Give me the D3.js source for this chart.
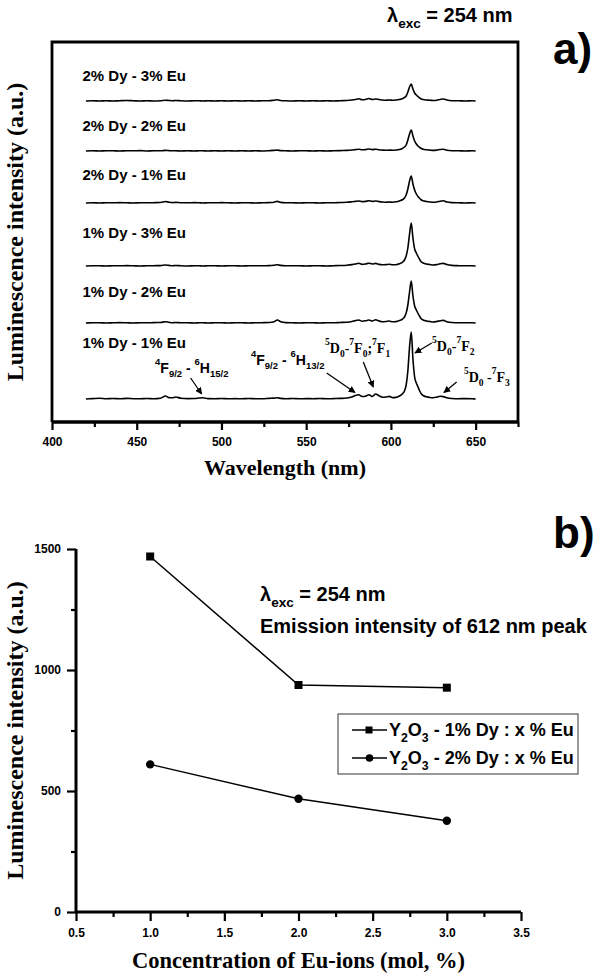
<!DOCTYPE html>
<html><head><meta charset="utf-8">
<script src="https://cdn.jsdelivr.net/npm/d3@7"></script>
<style>body{margin:0;background:#fff}svg{display:block}</style>
</head><body>
<svg id="c" width="600" height="977"></svg>
<script>
// ---------- Panel a data ----------
const wavelengths = [420,424,428,432,436,440,444,448,452,456,460,464,467,469,471,473,476,480,484,487,489,492,496,500,504,508,512,516,520,524,528,531,533,535,538,542,546,550,554,558,562,566,570,574,577,579,581,583,585,587,589,591,593,595,597,599,601,603,605,607,608,609,610,611,612,613,614,615,616,617,618,619,621,623,625,627,629,631,633,636,640,644,648,650];
const sampleLabels = ["2% Dy - 3% Eu","2% Dy - 2% Eu","2% Dy - 1% Eu","1% Dy - 3% Eu","1% Dy - 2% Eu","1% Dy - 1% Eu"];
const offsets = [321,271,219,156,99,23];
const labelLevels = [341,291,242,184,125,74];
const spec_2Dy3Eu = [0,0.3,0,0.2,0,0.3,0.5,0.2,0,0.3, 0,0.3,0.8,0.5,0.3,0.5,0.2,0,0.3,0.2, 0,0.2,0,0.3,0,0.2,0,0.2,0,0.2, 0.3,0.8,1.2,0.5,0.2,0,0.2,0,0.3,0, 0.2,0,0.3,0.5,1,1.5,2.2,1.2,1.5,2.5, 1.5,2,1.5,1,0.8,1,0.8,1,1.5,2.5, 3.5,5,9,14,17,12,8,6,4.5,3, 2,1.5,1,0.8,0.5,0.8,1.5,2,1,0.3, 0.2,0,0.2,0];
const spec_2Dy2Eu = [0,0.2,0,0.3,0.2,0,0.3,0.2,0.4,0, 0.3,0.2,0.6,0.4,0.2,0.3,0,0.2,0,0.3, 0.2,0,0.3,0,0.2,0,0.3,0,0.2,0, 0.3,0.6,0.9,0.4,0.2,0,0.3,0.2,0,0.3, 0,0.2,0.4,0.6,1,1.4,1.8,1.2,1.4,2, 1.4,1.8,1.2,0.9,0.7,0.9,0.8,1,1.5,2.8, 4,6,11,17,21,15,10,7,5,3.5, 2.5,1.8,1.2,0.9,0.6,0.9,1.5,1.8,0.8,0.3, 0.2,0,0.2,0];
const spec_2Dy1Eu = [0,0.2,0,0.3,0.2,0.4,0.2,0,0.3,0.2, 0.3,0.5,1.5,0.8,0.4,0.6,0.3,0.2,0.4,0.2, 0,0.3,0.2,0.4,0.2,0,0.3,0.2,0,0.2, 0.4,0.8,1.6,0.6,0.3,0.2,0,0.3,0.2,0, 0.3,0.2,0.5,0.7,1.2,1.6,2,1.4,1.6,2.2, 1.6,2,1.4,1,0.8,1,0.8,1.2,2,3.5, 5,8,14,22,27,19,13,9,6.5,4.5, 3,2.2,1.5,1,0.7,1,1.8,2.2,1,0.4, 0.2,0,0.3,0];
const spec_1Dy3Eu = [0,0.3,0.2,0,0.3,0.2,0.4,0.2,0,0.2, 0.3,0.4,1,0.6,0.3,0.5,0.2,0,0.3,0.2, 0,0.2,0.3,0,0.2,0.3,0,0.2,0.3,0.2, 0.4,0.8,1.2,0.6,0.3,0.2,0.3,0,0.2,0.3, 0,0.3,0.5,0.8,1.4,2,2.8,1.6,2,2.8, 2,2.6,1.6,1.2,1.4,1.8,1.2,1.3,2.2,4, 6,10,18,32,43,28,17,13,9.5,6.5, 4,3,2,1.5,1,1.4,2.2,2.6,1.4,0.6, 0.3,0.2,0.3,0];
const spec_1Dy2Eu = [0,0.2,0.3,0,0.2,0.4,0.2,0,0.3,0.2, 0.4,0.5,1.2,0.7,0.3,0.5,0.2,0.3,0,0.2, 0.3,0,0.2,0.3,0,0.2,0.3,0,0.2,0.3, 0.5,1.2,3,1.2,0.4,0.2,0,0.3,0.2,0, 0.3,0.2,0.5,0.8,1.5,2.4,3,1.8,2.2,3, 2,3.2,2,1.3,1.5,2,1.2,1.4,2.4,4.2, 6,10,18,31,42,27,17,13,9.5,6.5, 4,3,2,1.5,1,1.5,2.3,2.6,1.3,0.5, 0.2,0.3,0.2,0];
const spec_1Dy1Eu = [0,0.4,0.8,0.3,0.5,0.2,0.6,0.3,0.2,0.5, 0.3,0.8,3,1.4,1.2,2,0.8,0.4,0.5,1, 1.2,0.4,0.3,0.5,0.2,0.4,0.2,0.5,0.3,0.2, 0.6,0.9,1.2,0.6,0.3,0.5,0.2,0.4,0.3,0.5, 0.2,0.4,0.6,1,2,3.5,4.2,2.5,2.8,4.2, 2.6,5,3.2,1.8,2,2.6,1.4,1.6,3,5.5, 8,14,28,52,67,40,22,16,12,8, 5,3.5,2.2,1.5,1.2,1.8,2.8,2.4,1.2,0.5, 0.3,0.4,0.2,0];
const spectra = [spec_2Dy3Eu, spec_2Dy2Eu, spec_2Dy1Eu, spec_1Dy3Eu, spec_1Dy2Eu, spec_1Dy1Eu];
const wlTicks = [400,450,500,550,600,650];
const wlMinorTicks = [425,475,525,575,625,675];

// ---------- Panel b data ----------
const euConc = [1.0, 2.0, 3.0];
const dy1Series = [1469, 938, 927];
const dy2Series = [610, 468, 377];
const concTicks = [0.5,1.0,1.5,2.0,2.5,3.0,3.5];
const concMinor = [0.75,1.25,1.75,2.25,2.75,3.25];
const intTicks = [0,500,1000,1500];
const intMinor = [250,750,1250];

const SANS = "'Liberation Sans', Arial, sans-serif";
const SERIF = "'Liberation Serif', 'Times New Roman', serif";
const svg = d3.select("#c");

svg.append("defs").append("marker").attr("id","arr").attr("viewBox","0 0 10 10")
  .attr("refX",9).attr("refY",5).attr("markerWidth",7).attr("markerHeight",7)
  .attr("markerUnits","userSpaceOnUse").attr("orient","auto")
  .append("path").attr("d","M0,0 L10,5 L0,10 Z").attr("fill","#000");

function rich(g, x, y, parts, size, family, weight) {
  const t = g.append("text").attr("x", x).attr("y", y)
    .attr("font-family", family).attr("font-weight", weight || "bold").attr("font-size", size);
  parts.forEach(p => {
    const ts = t.append("tspan").text(p[0]);
    if (p[1] === "sup") ts.attr("y", y - size * 0.6).attr("font-size", size * 0.68);
    else if (p[1] === "sub") ts.attr("y", y + size * 0.32).attr("font-size", size * 0.68);
    else ts.attr("y", y);
  });
  return t;
}

// ================= Panel a =================
const xA = d3.scaleLinear().domain([400, 675]).range([52, 518]);
const yA = d3.scaleLinear().domain([0, 380]).range([422, 42]);
const gA = svg.append("g");

gA.append("path").attr("d", `M${xA(400)},${yA(0)} V${yA(380)} H${xA(675)} V${yA(0)}`)
  .attr("fill","none").attr("stroke","#000").attr("stroke-width",2.8);

spectra.forEach((s, k) => {
  gA.append("path").datum(s.map(v => yA(v + offsets[k])))
    .attr("d", d3.line().x((d,i) => xA(wavelengths[i])).y(d => d).curve(d3.curveMonotoneX))
    .attr("fill","none").attr("stroke","#000").attr("stroke-width",1.6).attr("stroke-linejoin","round");
  gA.append("text").attr("x", xA(418)).attr("y", yA(labelLevels[k]))
    .attr("font-family", SANS).attr("font-weight","bold").attr("font-size",15).text(sampleLabels[k]);
});

const axA = gA.append("g").attr("transform", `translate(0,${yA(0)})`)
  .call(d3.axisBottom(xA).tickValues(wlTicks).tickSize(8).tickPadding(7).tickFormat(d3.format("d")));
const axAm = gA.append("g").attr("transform", `translate(0,${yA(0)})`)
  .call(d3.axisBottom(xA).tickValues(wlMinorTicks).tickSize(5).tickFormat(""));
[axA, axAm].forEach(a => {
  a.select(".domain").attr("stroke-width",3).attr("d", `M${xA(400)},0H${xA(675)}`);
  a.selectAll(".tick line").attr("stroke-width",2.2);
});
axA.selectAll(".tick text").attr("font-family",SANS).attr("font-weight","bold").attr("font-size",12);

gA.append("text").attr("x", (xA(400)+xA(675))/2).attr("y", 475).attr("text-anchor","middle")
  .attr("font-family",SERIF).attr("font-weight","bold").attr("font-size",22).text("Wavelength (nm)");
gA.append("text").attr("transform", `translate(23,${(yA(0)+yA(380))/2}) rotate(-90)`).attr("text-anchor","middle")
  .attr("font-family",SERIF).attr("font-weight","bold").attr("font-size",24).text("Luminescence intensity (a.u.)");

rich(gA, 387, 22, [["λ"],["exc","sub"],[" = 254 nm"]], 20, SANS);
gA.append("text").attr("x",553).attr("y",64).attr("font-family",SANS).attr("font-weight","bold")
  .attr("font-size",44).text("a)");

const annA = [
  {x:460.8, y:49, f:SANS, s:14, parts:[["4","sup"],["F"],["9/2","sub"],[" - "],["6","sup"],["H"],["15/2","sub"]], a:[481.8,44,488.3,28]},
  {x:517.4, y:57, f:SANS, s:14, parts:[["4","sup"],["F"],["9/2","sub"],[" - "],["6","sup"],["H"],["13/2","sub"]], a:[562.1,49,578.8,29.5]},
  {x:561.1, y:69, f:SERIF, s:14, parts:[["5","sup"],["D"],["0","sub"],["-"],["7","sup"],["F"],["0","sub"],[";"],["7","sup"],["F"],["1","sub"]], a:[583.7,60,589.6,35]},
  {x:624.3, y:71, f:SERIF, s:14, parts:[["5","sup"],["D"],["0","sub"],["-"],["7","sup"],["F"],["2","sub"]], a:[624.1,79,614.2,69]},
  {x:643.1, y:40, f:SERIF, s:14, parts:[["5","sup"],["D"],["0","sub"],[" -"],["7","sup"],["F"],["3","sub"]], a:[638.8,40,631.3,29.5]}
];
annA.forEach(a => {
  rich(gA, xA(a.x), yA(a.y), a.parts, a.s, a.f);
  gA.append("line").attr("x1",xA(a.a[0])).attr("y1",yA(a.a[1])).attr("x2",xA(a.a[2])).attr("y2",yA(a.a[3]))
    .attr("stroke","#000").attr("stroke-width",1.3).attr("marker-end","url(#arr)");
});

// ================= Panel b =================
const xB = d3.scaleLinear().domain([0.5, 3.5]).range([76, 521]);
const yB = d3.scaleLinear().domain([0, 1500]).range([912, 549]);
const gB = svg.append("g");

const bx = gB.append("g").attr("transform",`translate(0,${yB(0)})`)
  .call(d3.axisBottom(xB).tickValues(concTicks).tickSize(9).tickPadding(7).tickFormat(d3.format(".1f")));
const bxm = gB.append("g").attr("transform",`translate(0,${yB(0)})`)
  .call(d3.axisBottom(xB).tickValues(concMinor).tickSize(5).tickFormat(""));
const by = gB.append("g").attr("transform",`translate(${xB(0.5)},0)`)
  .call(d3.axisLeft(yB).tickValues(intTicks).tickSize(9).tickPadding(6).tickFormat(d3.format("d")));
const bym = gB.append("g").attr("transform",`translate(${xB(0.5)},0)`)
  .call(d3.axisLeft(yB).tickValues(intMinor).tickSize(5).tickFormat(""));
[bx,bxm,by,bym].forEach(a => {
  a.select(".domain").attr("stroke-width",3);
  a.selectAll(".tick line").attr("stroke-width",2.2);
  a.selectAll(".tick text").attr("font-family",SANS).attr("font-weight","bold").attr("font-size",12);
});
bx.select(".domain").attr("d",`M${xB(0.5)},0H${xB(3.5)}`);
by.select(".domain").attr("d",`M0,${yB(0)}V${yB(1500)}`);
bxm.select(".domain").remove(); bym.select(".domain").remove();

const lineB = d3.line().x((d,i) => xB(euConc[i])).y(d => yB(d));
gB.append("path").attr("d", lineB(dy1Series)).attr("fill","none").attr("stroke","#000").attr("stroke-width",1.5);
gB.append("path").attr("d", lineB(dy2Series)).attr("fill","none").attr("stroke","#000").attr("stroke-width",1.5);
gB.selectAll("rect.sq").data(dy1Series).enter().append("rect").attr("class","sq")
  .attr("x",(d,i)=>xB(euConc[i])-4).attr("y",d=>yB(d)-4).attr("width",8).attr("height",8).attr("fill","#000");
gB.selectAll("circle.ci").data(dy2Series).enter().append("circle").attr("class","ci")
  .attr("cx",(d,i)=>xB(euConc[i])).attr("cy",d=>yB(d)).attr("r",4.2).attr("fill","#000");

gB.append("text").attr("x",(xB(0.5)+xB(3.5))/2).attr("y",968).attr("text-anchor","middle")
  .attr("font-family",SERIF).attr("font-weight","bold").attr("font-size",22.5).text("Concentration of Eu-ions (mol, %)");
gB.append("text").attr("transform",`translate(23,${(yB(0)+yB(1500))/2}) rotate(-90)`).attr("text-anchor","middle")
  .attr("font-family",SERIF).attr("font-weight","bold").attr("font-size",24).text("Luminescence intensity (a.u.)");

rich(gB, 260, 601, [["λ"],["exc","sub"],[" = 254 nm"]], 20, SANS);
gB.append("text").attr("x",260).attr("y",633).attr("font-family",SANS).attr("font-weight","bold")
  .attr("font-size",20).text("Emission intensity of 612 nm peak");
gB.append("text").attr("x",553).attr("y",548).attr("font-family",SANS).attr("font-weight","bold")
  .attr("font-size",44).text("b)");

const lg = gB.append("g");
lg.append("rect").attr("x",338).attr("y",714).attr("width",240).attr("height",60)
  .attr("fill","none").attr("stroke","#555").attr("stroke-width",1.2);
const legendItems = [{m:"sq", t:"1% Dy : x % Eu"},{m:"ci", t:"2% Dy : x % Eu"}];
legendItems.forEach((it,i) => {
  const cy = 730 + i*28;
  lg.append("line").attr("x1",352).attr("x2",387).attr("y1",cy).attr("y2",cy).attr("stroke","#000").attr("stroke-width",1.5);
  if (it.m === "sq") lg.append("rect").attr("x",365.5).attr("y",cy-3.5).attr("width",7).attr("height",7).attr("fill","#000");
  else lg.append("circle").attr("cx",369.5).attr("cy",cy).attr("r",3.8).attr("fill","#000");
  rich(lg, 389, cy+6, [["Y"],["2","sub"],["O"],["3","sub"],[" - " + it.t]], 18, SANS);
});
</script>
</body></html>
